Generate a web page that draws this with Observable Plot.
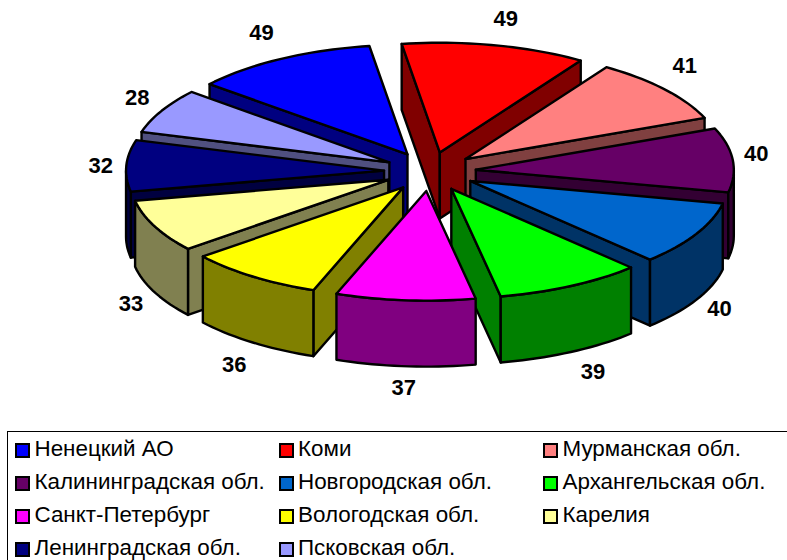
<!DOCTYPE html>
<html><head><meta charset="utf-8">
<script src="https://cdn.jsdelivr.net/npm/d3@7"></script>
<script src="https://cdn.jsdelivr.net/npm/@observablehq/plot@0.6"></script>
<style>
html,body{margin:0;padding:0;background:#fff;overflow:hidden;width:787px;height:560px}
svg{display:block;background:#fff}
#legend{position:absolute;left:7px;top:431px;width:790px;height:140px;border:1px solid #000;box-sizing:border-box;
font-family:"Liberation Sans",Arial,sans-serif;font-size:22.4px;color:#000}
.it{position:absolute;white-space:nowrap;line-height:24px;height:24px}
.sw{position:absolute;left:0;top:4.5px;width:11px;height:11px;border:2px solid #000}
.tx{position:absolute;left:19.5px;top:-1.5px}
</style></head><body>
<div id="chart"></div><div id="legend"></div>
<script>
const regions = ["Ненецкий АО","Коми","Мурманская обл.","Калининградская обл.","Новгородская обл.","Архангельская обл.","Санкт-Петербург","Вологодская обл.","Карелия","Ленинградская обл.","Псковская обл."];
const values = [49,49,41,40,40,39,37,36,33,32,28];
const topColors = ["#0000FF","#FF0000","#FF8080","#660066","#0066CC","#00FF00","#FF00FF","#FFFF00","#FFFF99","#000080","#9999FF"];
const sideColors = ["#000080","#800000","#804040","#330033","#003366","#008000","#800080","#808000","#808050","#000040","#505080"];

const W = 787, H = 431;
const cx = 429.5, cy = 171, R = 258, squash = 0.425, explode = 46, depth = 66;
const startAngle = -50.1 * Math.PI / 180;
const total = d3.sum(values);
const px = (c, a, r) => c.x + r * Math.sin(a);
const py = (c, a, r) => c.y - r * squash * Math.cos(a);

let acc = startAngle;
const slices = values.map((v, i) => {
  const a0 = acc, a1 = acc + v / total * 2 * Math.PI; acc = a1;
  const mid = (a0 + a1) / 2;
  return {i, a0, a1, mid, tip: {x: cx + explode * Math.sin(mid), y: cy - explode * squash * Math.cos(mid)}};
});
const order = d3.sort(slices, s => -Math.cos(s.mid));

const arc = (s, from, to) => {
  const n = Math.max(2, Math.ceil(Math.abs(to - from) / 0.03));
  return d3.range(n + 1).map(k => {
    const a = from + (to - from) * k / n;
    return [px(s.tip, a, R), py(s.tip, a, R)];
  });
};
const rows = [];
const add = (id, pts, color) => {
  [...pts, pts[0]].forEach(p => rows.push({id, x: p[0], y: p[1], color}));
};
for (const s of order) {
  const side = sideColors[s.i];
  const wall = (a, key) => {
    const t = [s.tip.x, s.tip.y], o = [px(s.tip, a, R), py(s.tip, a, R)];
    add(s.i + key, [t, o, [o[0], o[1] + depth], [t[0], t[1] + depth]], side);
  };
  // the far wall is laid first so the nearer one covers it
  const ws = [];
  if (Math.sin(s.a0) < 0) ws.push([s.a0, "-a"]);
  if (Math.sin(s.a1) > 0) ws.push([s.a1, "-b"]);
  ws.sort((p, q) => Math.cos(q[0]) - Math.cos(p[0]));
  ws.forEach(w => wall(w[0], w[1]));
  // outer rim: only the part of the arc that faces the viewer
  const lo = Math.max(s.a0, Math.PI / 2);
  const hi = Math.min(s.a1, 3 * Math.PI / 2);
  if (hi > lo) {
    const top = arc(s, lo, hi);
    const bottom = top.slice().reverse().map(p => [p[0], p[1] + depth]);
    add(s.i + "-r", [...top, ...bottom], side);
  }
  add(s.i + "-t", [[s.tip.x, s.tip.y], ...arc(s, s.a0, s.a1)], topColors[s.i]);
}

// small per-label corrections on top of the ring the labels sit on
const labelNudge = [[-7,-2],[5.5,0],[0,-5],[-2.5,0],[0.5,-2],[10,0],[0.5,-1],[-3.5,4],[0,2],[0.5,5],[-1.5,2]];
const labels = slices.map(s => {
  const c = Math.cos(s.mid);
  return {
    x: cx + 330 * Math.sin(s.mid) + labelNudge[s.i][0],
    y: (c >= 0 ? 167 : 237) - 152 * c + labelNudge[s.i][1],
    t: String(values[s.i])
  };
});

const plot = Plot.plot({
  width: W, height: H, margin: 0,
  x: {domain: [0, W], range: [0, W], axis: null},
  y: {domain: [0, H], range: [0, H], axis: null},
  color: {type: "identity"},
  style: {background: "#fff"},
  marks: [
    Plot.line(rows, {x: "x", y: "y", z: "id", fill: "color", stroke: "#000", strokeWidth: 2.4, strokeLinejoin: "round", strokeOpacity: 1}),
    Plot.text(labels, {x: "x", y: "y", text: "t", fontFamily: "Liberation Sans, Arial, sans-serif", fontWeight: "bold", fontSize: 22, fill: "#000", textAnchor: "middle", lineAnchor: "middle"})
  ]
});
document.getElementById("chart").appendChild(plot);

const colX = [7, 270.5, 535], rowY = [6, 39, 72, 105];
const legend = document.getElementById("legend");
regions.forEach((name, i) => {
  const it = document.createElement("div");
  it.className = "it";
  it.style.left = colX[i % 3] + "px";
  it.style.top = rowY[Math.floor(i / 3)] + "px";
  const sw = document.createElement("span"); sw.className = "sw"; sw.style.background = topColors[i];
  const tx = document.createElement("span"); tx.className = "tx"; tx.textContent = name;
  it.append(sw, tx);
  legend.appendChild(it);
});
</script>
</body></html>
